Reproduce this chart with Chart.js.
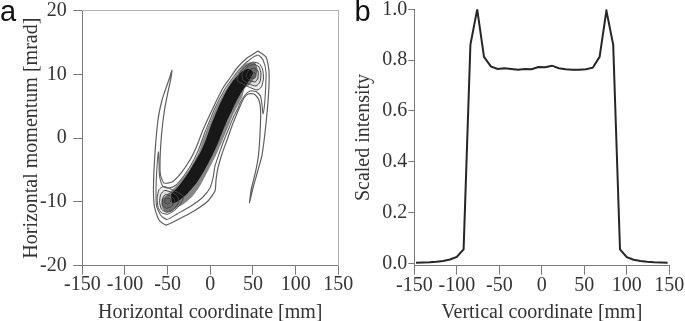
<!DOCTYPE html>
<html><head><meta charset="utf-8">
<script src="https://cdn.jsdelivr.net/npm/chart.js@4"></script>
<style>
html,body{margin:0;padding:0;background:#fff;width:685px;height:321px;overflow:hidden;position:relative;}
#ca{position:absolute;left:0;top:0;width:365px;height:321px;}
#cb{position:absolute;left:345px;top:0;width:340px;height:321px;}
.lab{position:absolute;font-family:"Liberation Sans",Arial,sans-serif;font-size:29px;color:#111;line-height:1;}
</style></head><body>
<canvas id="ca" width="365" height="321"></canvas>
<canvas id="cb" width="340" height="321"></canvas>
<div class="lab" style="left:0px;top:-3.5px">a</div>
<div class="lab" style="left:354.5px;top:-3.5px">b</div>
<script>
// ---- tick labels ----
const xTicksA = [-150, -100, -50, 0, 50, 100, 150];
const yTicksA = [-20, -10, 0, 10, 20];
const xTicksB = [-150, -100, -50, 0, 50, 100, 150];
const yTicksB = [0, 0.2, 0.4, 0.6, 0.8, 1.0];

// ---- panel a: contour lines (horizontal coordinate [mm], momentum [mrad]) ----
const outerX = [55.9, 65.3, 68.8, 68.2, 64.7, 60.6, 55.3, 50.0, 45.9, 48.3, 53.0, 56.5, 58.6, 58.8, 56.5, 51.2, 44.2, 39.5, 36.0, 30.1, 25.4, 19.6, 13.7, 9.0, 6.7, 5.5, -2.7, -19.1, -36.7, -51.9, -60.1, -65.4, -66.6, -64.8, -61.3, -56.6, -51.9, -47.8, -44.9, -46.1, -49.6, -53.7, -57.2, -58.9, -58.4, -54.3, -44.9, -34.3, -23.8, -16.8, -8.6, 3.2, 14.9, 23.1, 31.3, 43.0, 55.9];
const outerY = [13.68, 12.74, 10.54, 6.78, 1.60, -2.64, -5.30, -7.81, -10.16, -7.81, -5.30, -2.64, 1.60, 4.74, 6.15, 6.93, 6.93, 6.31, 5.36, 3.48, 1.91, -0.28, -2.48, -4.67, -6.56, -8.28, -9.85, -11.42, -12.67, -13.62, -12.83, -10.79, -7.65, -2.32, 2.85, 5.99, 7.87, 9.44, 10.70, 9.44, 7.25, 4.42, 0.50, -3.42, -5.77, -7.03, -6.87, -5.46, -3.42, -1.54, 1.29, 4.74, 7.87, 9.44, 11.01, 12.58, 13.68];

const contour2X = [-6.2, 5.5, 17.2, 25.4, 33.6, 44.2, 55.9, 61.8, 65.3, 64.7, 63.5, 61.8, 60.6, 58.8, 53.6, 46.5, 40.7, 34.8, 32.5, 26.6, 21.9, 16.1, 10.2, 5.5, 3.2, -0.4, -8.6, -22.6, -39.0, -50.7, -57.8, -63.0, -63.6, -63.0, -61.9, -60.7, -60.1, -59.5, -55.4, -48.4, -40.2, -32.0, -22.6, -14.4, -6.2];
const contour2Y = [0.97, 4.74, 7.72, 9.29, 10.70, 12.11, 13.05, 12.27, 10.38, 7.56, 5.21, 3.80, 5.21, 6.62, 7.33, 7.40, 6.78, 5.52, 4.74, 3.17, 1.60, -0.28, -2.48, -4.36, -6.24, -7.81, -9.22, -10.64, -11.89, -12.75, -12.13, -10.64, -8.13, -5.77, -3.42, -2.16, -3.89, -5.93, -7.58, -7.81, -7.34, -6.09, -4.20, -2.01, 0.97];

const bandHaloX = [-57.0, -47.2, -37.9, -25.0, -13.5, -9.5, -4.2, 2.1, 7.7, 15.1, 22.3, 30.0, 39.5, 46.5, 52.6, 55.5, 47.5, 40.7, 37.8, 31.9, 26.1, 21.4, 15.5, 8.5, 0.3, -12.1, -21.4, -30.8, -40.2, -47.2, -53.5, -57.0, -57.0];
const bandHaloY = [-9.6, -8.44, -7.18, -5.0, -2.16, -0.60, 1.29, 3.33, 5.05, 6.93, 8.50, 9.91, 11.5, 11.9, 11.8, 10.5, 8.6, 7.87, 6.62, 5.05, 3.48, 1.91, 0.03, -2.16, -4.36, -7.5, -9.2, -10.3, -11.0, -11.6, -11.5, -10.6, -9.6];

const bandCoreX = [-46.0, -35.0, -23.4, -10.8, -5.0, -0.3, 5.6, 11.4, 18.4, 26.6, 36.5, 45.0, 50.2, 43.5, 36.8, 31.0, 25.3, 19.5, 13.7, 9.0, 2.0, -6.3, -16.0, -27.0, -38.0, -44.5, -46.0];
const bandCoreY = [-8.8, -7.2, -4.9, -2.0, -0.2, 1.6, 3.6, 5.4, 7.3, 9.0, 10.4, 10.9, 10.3, 8.6, 7.3, 5.9, 4.3, 2.7, 0.8, -0.8, -2.8, -4.9, -7.0, -8.7, -9.9, -10.2, -8.8];

const upRingAX = [50.0, 57.1, 61.2, 62.3, 60.0, 54.7, 45.4, 37.1, 31.3, 34.8, 41.8, 50.0];
const upRingAY = [11.95, 11.72, 10.85, 9.44, 8.03, 7.56, 8.03, 8.58, 9.13, 10.31, 11.33, 11.95];
const upRingBX = [51.2, 57.1, 59.4, 58.2, 53.6, 45.4, 38.3, 37.1, 43.0, 51.2];
const upRingBY = [11.64, 11.17, 10.07, 8.82, 8.19, 8.50, 9.13, 10.07, 11.17, 11.64];
const upRingCX = [51.2, 55.9, 55.9, 52.4, 45.4, 41.8, 45.4, 51.2];
const upRingCY = [11.01, 10.54, 9.44, 8.82, 9.13, 9.76, 10.70, 11.01];
const upRingDX = [50.0, 53.6, 52.4, 47.7, 46.5, 50.0];
const upRingDY = [10.38, 10.07, 9.44, 9.44, 9.91, 10.38];

const loRingAX = [-50.0, -57.1, -61.2, -62.3, -60.0, -54.7, -45.4, -37.1, -31.3, -34.8, -41.8, -50.0];
const loRingAY = [-11.95, -11.72, -10.85, -9.44, -8.03, -7.56, -8.03, -8.58, -9.13, -10.31, -11.33, -11.95];
const loRingBX = [-51.2, -57.1, -59.4, -58.2, -53.6, -45.4, -38.3, -37.1, -43.0, -51.2];
const loRingBY = [-11.64, -11.17, -10.07, -8.82, -8.19, -8.50, -9.13, -10.07, -11.17, -11.64];
const loRingCX = [-51.2, -55.9, -55.9, -52.4, -45.4, -41.8, -45.4, -51.2];
const loRingCY = [-11.01, -10.54, -9.44, -8.82, -9.13, -9.76, -10.70, -11.01];
const loRingDX = [-50.0, -53.6, -52.4, -47.7, -46.5, -50.0];
const loRingDY = [-10.38, -10.07, -9.44, -9.44, -9.91, -10.38];

// ---- panel b: vertical profile ----
const profileX = [-148, -140, -132, -124, -116, -108, -100, -92, -84, -76, -68, -60, -52, -44, -36, -28, -20, -12, -4, 4, 12, 20, 28, 36, 44, 52, 60, 68, 76, 84, 92, 100, 108, 116, 124, 132, 140, 148];
const profileY = [0.002, 0.003, 0.004, 0.006, 0.009, 0.015, 0.025, 0.055, 0.86, 1.0, 0.813, 0.775, 0.765, 0.768, 0.765, 0.762, 0.765, 0.764, 0.773, 0.772, 0.778, 0.768, 0.764, 0.762, 0.762, 0.764, 0.770, 0.813, 0.995, 0.86, 0.055, 0.024, 0.014, 0.009, 0.006, 0.004, 0.003, 0.002];

// ---- helpers ----
const serif = '"Liberation Serif","Times New Roman",serif';
const txt = '#333';
const axisCol = '#7a7a7a';
function pts(xs, ys) { return xs.map((x, i) => ({ x: x, y: ys[i] })); }
function fixTicks(vals) { return function (axis) { axis.ticks = vals.map(v => ({ value: v })); }; }
function poly(xs, ys, o) {
  return Object.assign({ data: pts(xs, ys), showLine: true, pointRadius: 0, pointHoverRadius: 0, tension: 0.2,
    fill: false, borderWidth: 1, borderColor: '#666', backgroundColor: 'rgba(0,0,0,0)' }, o);
}
function ring(xs, ys) {
  return poly(xs, ys, { fill: 'shape', backgroundColor: 'rgba(0,0,0,0.07)', borderColor: '#4a4a4a', borderWidth: 1, order: 10 });
}
const tickFont = { family: serif, size: 20, lineHeight: 1 };
const titleFont = { family: serif, size: 20, lineHeight: 1.2 };

new Chart(document.getElementById('ca'), {
  type: 'scatter',
  data: { datasets: [
    poly(bandHaloX, bandHaloY, { fill: 'shape', backgroundColor: 'rgba(60,60,60,0.62)', borderWidth: 0, order: 20 }),
    poly(bandCoreX, bandCoreY, { fill: 'shape', backgroundColor: '#181818', borderWidth: 0, order: 19 }),
    ring(upRingAX, upRingAY), ring(upRingBX, upRingBY), ring(upRingCX, upRingCY), ring(upRingDX, upRingDY),
    ring(loRingAX, loRingAY), ring(loRingBX, loRingBY), ring(loRingCX, loRingCY), ring(loRingDX, loRingDY),
    poly(contour2X, contour2Y, { order: 3, borderColor: '#5e5e5e', borderWidth: 1.1 }),
    poly(outerX, outerY, { order: 2, borderColor: '#5e5e5e', borderWidth: 1.2 })
  ] },
  options: {
    responsive: false, animation: false, devicePixelRatio: 1, events: [],
    layout: { padding: { left: 0, top: 10.7, right: 26.7, bottom: 0 } },
    plugins: { legend: { display: false }, tooltip: { enabled: false } },
    scales: {
      x: {
        type: 'linear', position: 'bottom', min: -150, max: 150,
        afterBuildTicks: fixTicks(xTicksA),
        afterFit: s => { s.height = 55.3; s.paddingLeft = 0; s.paddingRight = 0; },
        grid: { drawOnChartArea: false, drawTicks: true, tickLength: 9, color: axisCol, lineWidth: 1 },
        border: { display: true, color: axisCol, width: 1 },
        ticks: { color: txt, font: tickFont, padding: 0, maxRotation: 0, autoSkip: false },
        title: { display: true, text: 'Horizontal coordinate [mm]', color: txt, font: titleFont, padding: { top: 0, bottom: -4 } }
      },
      y: {
        type: 'linear', position: 'left', min: -20, max: 20,
        afterBuildTicks: fixTicks(yTicksA),
        afterFit: s => { s.width = 82.3; s.paddingTop = 0; s.paddingBottom = 0; },
        grid: { drawOnChartArea: false, drawTicks: true, tickLength: 9, color: axisCol, lineWidth: 1 },
        border: { display: true, color: axisCol, width: 1 },
        ticks: { color: txt, font: tickFont, padding: 6.6, autoSkip: false },
        title: { display: true, text: 'Horizontal momentum [mrad]', color: txt, font: titleFont, padding: { top: 19.5, bottom: 0 } }
      },
      x2: {
        type: 'linear', position: 'top', min: -150, max: 150,
        ticks: { display: false }, grid: { display: false, drawTicks: false },
        border: { display: true, color: '#b0b0b0', width: 1 },
        afterFit: s => { s.height = 0; s.paddingLeft = 0; s.paddingRight = 0; }
      },
      y2: {
        type: 'linear', position: 'right', min: -20, max: 20,
        ticks: { display: false }, grid: { display: false, drawTicks: false },
        border: { display: true, color: '#b0b0b0', width: 1 },
        afterFit: s => { s.width = 0; s.paddingTop = 0; s.paddingBottom = 0; }
      }
    }
  }
});

new Chart(document.getElementById('cb'), {
  type: 'scatter',
  data: { datasets: [
    { data: pts(profileX, profileY), showLine: true, pointRadius: 0, pointHoverRadius: 0, tension: 0,
      borderColor: '#262626', borderWidth: 2, fill: false }
  ] },
  options: {
    responsive: false, animation: false, devicePixelRatio: 1, events: [],
    layout: { padding: { left: 0, top: 9.3, right: 15.7, bottom: 0 } },
    plugins: { legend: { display: false }, tooltip: { enabled: false } },
    scales: {
      x: {
        type: 'linear', position: 'bottom', min: -150, max: 150,
        afterBuildTicks: fixTicks(xTicksB),
        afterFit: s => { s.height = 55.3; s.paddingLeft = 0; s.paddingRight = 0; },
        grid: { drawOnChartArea: false, drawTicks: true, tickLength: 9, color: axisCol, lineWidth: 1 },
        border: { display: true, color: axisCol, width: 1 },
        ticks: { color: txt, font: tickFont, padding: 1, maxRotation: 0, autoSkip: false },
        title: { display: true, text: 'Vertical coordinate [mm]', color: txt, font: titleFont, padding: { top: 0, bottom: -4 } }
      },
      y: {
        type: 'linear', position: 'left', min: -0.0095, max: 1.0,
        afterBuildTicks: fixTicks(yTicksB),
        afterFit: s => { s.width = 69.3; s.paddingTop = 0; s.paddingBottom = 0; },
        grid: { drawOnChartArea: false, drawTicks: true, tickLength: 6, color: axisCol, lineWidth: 1 },
        border: { display: true, color: axisCol, width: 1 },
        ticks: { color: txt, font: tickFont, padding: 1, autoSkip: false, callback: v => Number(v).toFixed(1) },
        title: { display: true, text: 'Scaled intensity', color: txt, font: titleFont, padding: { top: 7, bottom: 0 } }
      }
    }
  }
});
</script>
</body></html>
